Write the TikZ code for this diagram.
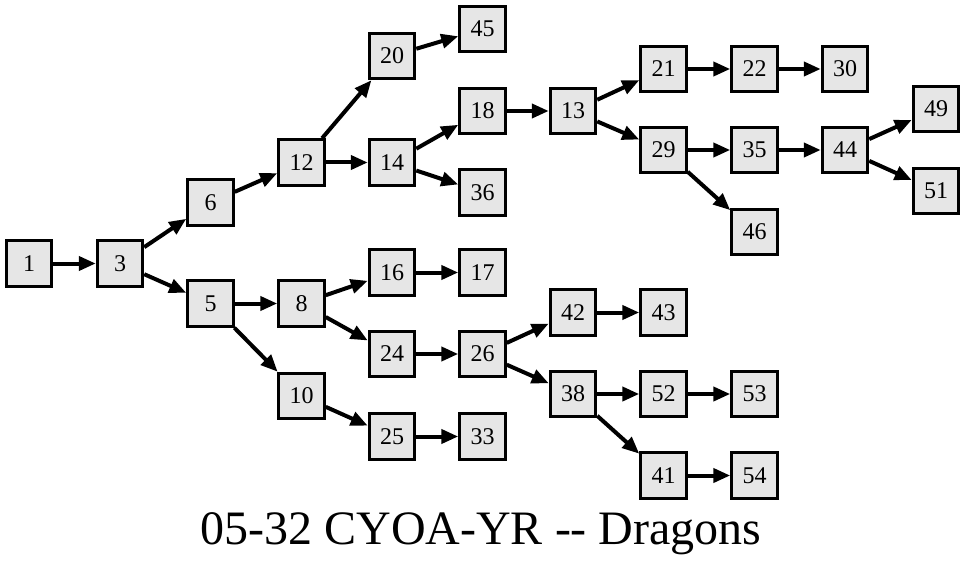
\documentclass[tikz,border=0pt]{standalone}
\usepackage{fontspec}
\setmainfont{Liberation Serif}
\usetikzlibrary{arrows.meta}
\definecolor{boxgray}{HTML}{E6E6E6}
\tikzset{
    box/.style={draw, fill=boxgray, line width=3pt, minimum size=45.5pt, inner sep=0pt,
        font=\fontsize{24}{28}\selectfont},
    edge/.style={line width=4pt, -{Triangle[length=17pt,width=14pt]}}
}
\begin{document}
\begin{tikzpicture}[x=1pt,y=-1pt]
    \useasboundingbox (0,0) rectangle (965,564);
    \foreach \n/\x/\y in {1/29/263.5, 3/120/263.5, 6/210.5/202.5, 5/210.5/303.5,
        12/301.5/162.5, 8/301.5/303.5, 10/301.5/396,
        20/392/56, 14/392/162.5, 16/392/272.5, 24/392/354, 25/392/436.5,
        45/482.5/29, 18/482.5/111, 36/482.5/192.5, 17/482.5/272.5, 26/482.5/354, 33/482.5/436.5,
        13/573/111, 42/573/312.5, 38/573/394,
        21/663.5/69, 29/663.5/150, 43/663.5/312.5, 52/663.5/394, 41/663.5/475.5,
        22/754.5/69, 35/754.5/150, 46/754.5/232, 53/754.5/394, 54/754.5/475.5,
        30/845/69, 44/845/150,
        49/936/109, 51/936/191}
    {
    \node[box] (n\n) at (\x,\y) {\n};
    }
    \foreach \a/\b in {1/3, 3/6, 3/5, 6/12, 12/20, 12/14, 20/45, 14/18, 14/36,
        18/13, 13/21, 13/29, 21/22, 22/30, 29/35, 29/46, 35/44, 44/49, 44/51,
        5/8, 5/10, 8/16, 8/24, 16/17, 24/26, 26/42, 26/38, 42/43,
        38/52, 38/41, 52/53, 41/54, 10/25, 25/33}
    {
    \draw[edge] (n\a) -- (n\b);
    }
    \node[anchor=base, inner sep=0pt, font=\fontsize{48}{56}\selectfont] (title) at (481,544)
        {05-32 CYOA-YR -\kern0pt- Dragons};
\end{tikzpicture}
\end{document}
